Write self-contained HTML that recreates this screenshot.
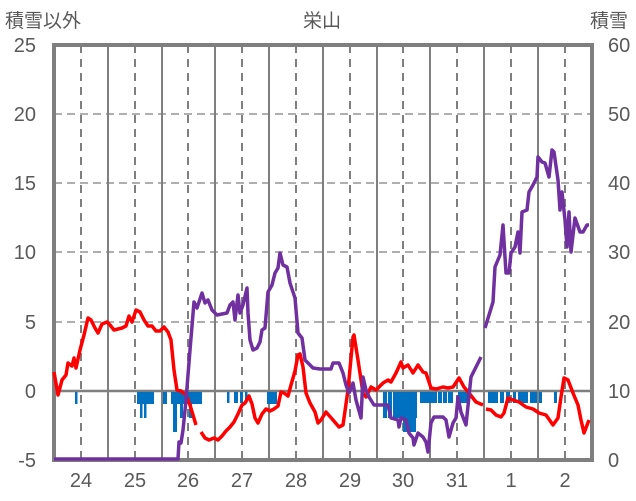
<!DOCTYPE html>
<html><head><meta charset="utf-8"><style>
html,body{margin:0;padding:0;background:#fff;}
svg{display:block;font-family:"Liberation Sans","Noto Sans CJK JP",sans-serif;}
</style></head><body>
<svg width="636" height="501" viewBox="0 0 636 501" xmlns="http://www.w3.org/2000/svg">
<rect width="636" height="501" fill="#fff"/>
<g stroke="#7f7f7f" stroke-width="1.3" stroke-dasharray="8,5">
<line x1="54" y1="114" x2="592" y2="114"/>
<line x1="54" y1="183" x2="592" y2="183"/>
<line x1="54" y1="252" x2="592" y2="252"/>
<line x1="54" y1="322" x2="592" y2="322"/>
</g>
<g stroke="#7f7f7f" stroke-width="2" stroke-dasharray="8,6">
<line x1="81" y1="45" x2="81" y2="460"/><line x1="135" y1="45" x2="135" y2="460"/>
<line x1="188" y1="45" x2="188" y2="460"/><line x1="242" y1="45" x2="242" y2="460"/>
<line x1="296" y1="45" x2="296" y2="460"/><line x1="350" y1="45" x2="350" y2="460"/>
<line x1="403" y1="45" x2="403" y2="460"/><line x1="457" y1="45" x2="457" y2="460"/>
<line x1="511" y1="45" x2="511" y2="460"/><line x1="565" y1="45" x2="565" y2="460"/>
</g>
<g stroke="#7f7f7f" stroke-width="2">
<line x1="108" y1="45" x2="108" y2="460"/><line x1="162" y1="45" x2="162" y2="460"/>
<line x1="215" y1="45" x2="215" y2="460"/><line x1="269" y1="45" x2="269" y2="460"/>
<line x1="323" y1="45" x2="323" y2="460"/><line x1="377" y1="45" x2="377" y2="460"/>
<line x1="430" y1="45" x2="430" y2="460"/><line x1="484" y1="45" x2="484" y2="460"/>
<line x1="538" y1="45" x2="538" y2="460"/>
<line x1="54" y1="391" x2="592" y2="391" stroke-width="2.5"/>
</g>
<rect x="54" y="45" width="538" height="415" fill="none" stroke="#7f7f7f" stroke-width="4"/>
<g fill="#0070c0">
<rect x="75" y="392" width="2.5" height="12"/>
<rect x="137" y="392" width="17" height="12"/><rect x="140" y="392" width="2.5" height="26"/><rect x="144" y="392" width="2.5" height="26"/>
<rect x="163" y="392" width="4" height="12"/>
<rect x="171" y="392" width="31" height="12"/><rect x="173" y="392" width="4" height="40"/><rect x="180" y="392" width="3" height="26"/><rect x="189" y="392" width="3" height="26"/>
<rect x="227" y="392" width="2.5" height="11"/><rect x="234" y="392" width="4" height="11"/><rect x="240" y="392" width="3" height="11"/><rect x="245" y="392" width="2.5" height="11"/>
<rect x="267" y="392" width="10" height="12"/>
<rect x="383" y="392" width="4" height="26"/><rect x="388" y="392" width="4" height="26"/><rect x="393" y="392" width="24" height="26"/><rect x="403" y="392" width="13" height="40"/>
<rect x="420" y="392" width="17" height="11"/><rect x="438" y="392" width="4" height="11"/><rect x="443" y="392" width="4" height="11"/><rect x="448" y="392" width="5" height="11"/><rect x="458" y="392" width="12" height="11"/>
<rect x="488" y="392" width="10" height="11"/><rect x="500" y="392" width="4" height="11"/><rect x="506" y="392" width="4" height="11"/><rect x="513" y="392" width="3" height="11"/><rect x="518" y="392" width="10" height="11"/><rect x="530" y="392" width="7" height="11"/><rect x="539" y="392" width="3" height="11"/><rect x="554" y="392" width="3" height="11"/>
</g>
<polyline fill="none" stroke="#ff0000" stroke-width="3.5" stroke-linejoin="round" points="54,372 58,395 62,380 66,375 68,363 72,366 74,358 76,368 80,350 84,335 88,318 91,320 95,328 98,333 102,324 107,322 110,325 114,330 118,329 122,328 126,326 129,316 132,322 136,310 140,312 144,320 148,326 152,326 156,331 160,331 164,327 168,332 171,340 174,370 177,390 181,391 186,395 190,405 196,425"/>
<polyline fill="none" stroke="#ff0000" stroke-width="3.5" stroke-linejoin="round" points="201,432 205,438 209,440 214,438 218,440 222,436 226,431 230,427 234,422 238,414 242,405 245,403 249,396 252,404 255,418 258,423 262,414 266,409 270,411 274,409 278,406 281,392 284,393 288,396 291,385 295,371 298,355 300,354 303,367 306,393 310,403 315,412 318,423 321,420 326,412 333,420 339,427 343,425 348,390 353,337 354,335 358,360 363,393 366,397 371,387 376,390 383,383 388,380 391,382 396,373 401,362 403,368 408,365 413,373 418,365 423,372 426,373 431,388 436,389 443,387 448,388 453,387 459,378 464,387 469,393 476,402 483,405"/>
<polyline fill="none" stroke="#ff0000" stroke-width="3.5" stroke-linejoin="round" points="486,409 491,410 496,415 501,417 504,413 508,398 513,400 519,402 526,407 533,409 539,413 546,415 553,425 558,418 561,397 564,378 568,380 573,393 578,405 581,420 584,433 589,420"/>
<polyline fill="none" stroke="#7030a0" stroke-width="3.5" stroke-linejoin="round" points="54,459 178,459 179,442 181,443 183,430 186,400 190,350 194,302 197,308 202,293 205,303 208,300 212,310 217,315 227,313 230,305 233,302 235,320 238,295 240,313 243,305 247,288 248,313 250,340 253,350 257,348 260,342 262,330 265,328 268,292 272,285 275,273 278,268 280,253 283,265 287,267 290,283 295,298 298,333 302,338 305,360 310,365 313,368 320,369 331,369 333,363 339,363 343,373 346,385 349,393 353,383 356,400 361,418 363,377 366,390 369,397 374,405 388,405 391,418 398,420 399,427 401,418 406,420 409,433 413,438 414,445 418,433 423,437 426,442 428,452 431,423 434,417 443,417 446,420 449,437 453,423 456,418 458,397 461,412 466,425 471,377 476,367 481,357"/>
<polyline fill="none" stroke="#7030a0" stroke-width="3.5" stroke-linejoin="round" points="485,328 493,302 495,267 500,255 503,225 506,273 509,273 511,253 515,247 518,232 520,253 522,212 527,210 529,192 533,185 537,177 538,157 542,162 545,163 549,177 552,150 554,152 558,180 560,210 562,192 565,220 567,247 569,212 571,252 575,218 580,232 583,232 587,225 589,225"/>
<g fill="#595959" font-size="20">
<g text-anchor="end">
<text x="36" y="52">25</text><text x="36" y="121">20</text><text x="36" y="190">15</text>
<text x="36" y="259">10</text><text x="36" y="329">5</text><text x="36" y="398">0</text><text x="36" y="467">-5</text>
</g>
<g text-anchor="start">
<text x="608" y="52">60</text><text x="608" y="121">50</text><text x="608" y="190">40</text>
<text x="608" y="259">30</text><text x="608" y="329">20</text><text x="608" y="398">10</text><text x="608" y="467">0</text>
</g>
<g text-anchor="middle">
<text x="81" y="487">24</text><text x="135" y="487">25</text><text x="188" y="487">26</text><text x="242" y="487">27</text>
<text x="296" y="487">28</text><text x="350" y="487">29</text><text x="403" y="487">30</text><text x="457" y="487">31</text>
<text x="511" y="487">1</text><text x="565" y="487">2</text>
</g>
<text x="5" y="27" font-size="19">積雪以外</text>
<text x="322" y="27" font-size="19" text-anchor="middle">栄山</text>
<text x="590" y="27" font-size="19">積雪</text>
</g>
</svg>
</body></html>
